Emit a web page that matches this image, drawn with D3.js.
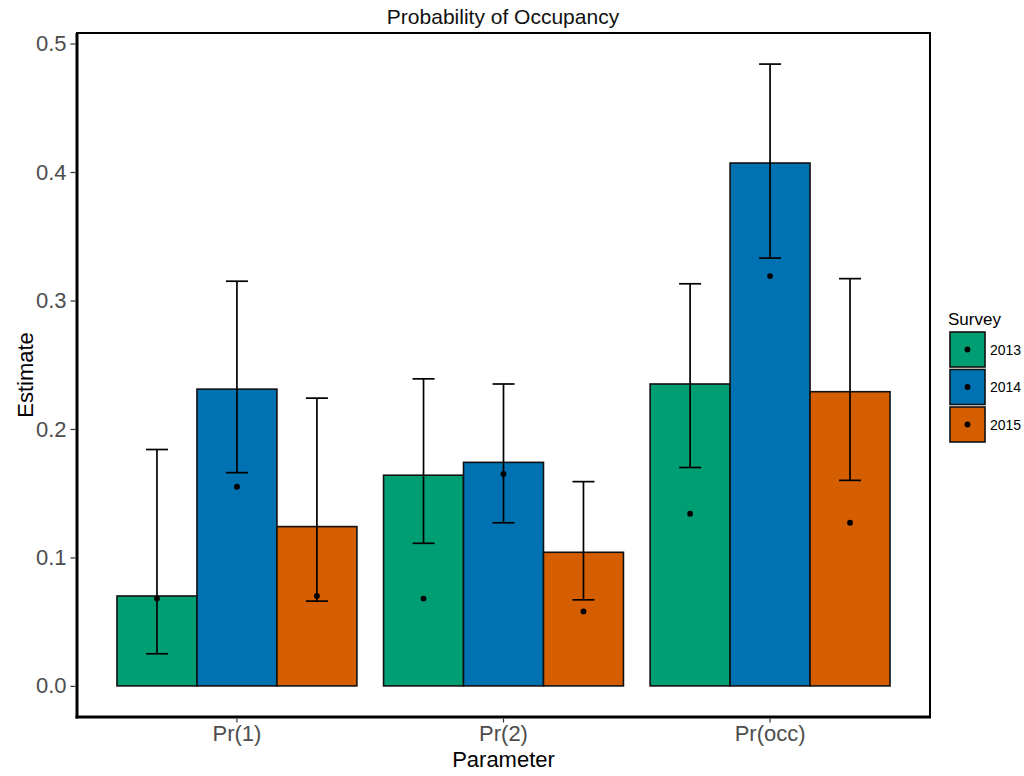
<!DOCTYPE html>
<html><head><meta charset="utf-8">
<script src="https://cdn.jsdelivr.net/npm/d3@7"></script>
<style>
html,body{margin:0;padding:0;background:#fff;}
svg{display:block;font-family:"Liberation Sans",Arial,sans-serif;}
</style></head>
<body><svg id="c" width="1024" height="776"></svg>
<script>
const categories = ["Pr(1)", "Pr(2)", "Pr(occ)"];
const surveys = ["2013", "2014", "2015"];
const barValues = {"2013": [0.070, 0.164, 0.235], "2014": [0.231, 0.174, 0.407], "2015": [0.124, 0.104, 0.229]};
const pointValues = {"2013": [0.068, 0.068, 0.134], "2014": [0.155, 0.165, 0.319], "2015": [0.070, 0.058, 0.127]};
const lowerValues = {"2013": [0.025, 0.111, 0.170], "2014": [0.166, 0.127, 0.333], "2015": [0.066, 0.067, 0.160]};
const upperValues = {"2013": [0.184, 0.239, 0.313], "2014": [0.315, 0.235, 0.484], "2015": [0.224, 0.159, 0.317]};
const yTicks = [0, 0.1, 0.2, 0.3, 0.4, 0.5];
const colors = {"2013": "#009E73", "2014": "#0072B2", "2015": "#D55E00"};

const svg = d3.select("#c");
const L = 77, R = 930, T = 33, B = 717;

const rows = [];
surveys.forEach(s => categories.forEach((c, i) => rows.push({
  s, c, bar: barValues[s][i], pt: pointValues[s][i], lo: lowerValues[s][i], hi: upperValues[s][i]
})));

const x = d3.scaleBand().domain(categories).range([L, R]).paddingInner(0.1).paddingOuter(0.15);
const xs = d3.scaleBand().domain(surveys).range([0, x.bandwidth()]);
const maxV = d3.max(rows, d => d.hi), minV = 0;
const ex = (maxV - minV) * 0.05;
const y = d3.scaleLinear().domain([minV - ex, maxV + ex]).range([B, T]);

// bars
svg.append("g").selectAll("rect").data(rows).join("rect")
  .attr("x", d => x(d.c) + xs(d.s))
  .attr("y", d => y(d.bar))
  .attr("width", xs.bandwidth())
  .attr("height", d => y(0) - y(d.bar))
  .attr("fill", d => colors[d.s])
  .attr("stroke", "#111").attr("stroke-width", 1.6);

// error bars
const eg = svg.append("g").attr("stroke", "#000").attr("stroke-width", 1.7);
rows.forEach(d => {
  const cx = x(d.c) + xs(d.s) + xs.bandwidth() / 2;
  eg.append("line").attr("x1", cx).attr("x2", cx).attr("y1", y(d.lo)).attr("y2", y(d.hi));
  eg.append("line").attr("x1", cx - 11).attr("x2", cx + 11).attr("y1", y(d.lo)).attr("y2", y(d.lo));
  eg.append("line").attr("x1", cx - 11).attr("x2", cx + 11).attr("y1", y(d.hi)).attr("y2", y(d.hi));
});

// points
svg.append("g").selectAll("circle").data(rows).join("circle")
  .attr("cx", d => x(d.c) + xs(d.s) + xs.bandwidth() / 2)
  .attr("cy", d => y(d.pt))
  .attr("r", 2.9).attr("fill", "#000");

// panel border
svg.append("rect").attr("x", L).attr("y", T).attr("width", R - L).attr("height", B - T)
  .attr("fill", "none").attr("stroke", "#000").attr("stroke-width", 2);
svg.append("line").attr("x1", L).attr("x2", L).attr("y1", T).attr("y2", B + 1.5).attr("stroke", "#000").attr("stroke-width", 3);
svg.append("line").attr("x1", L - 1.5).attr("x2", R + 1).attr("y1", B).attr("y2", B).attr("stroke", "#000").attr("stroke-width", 3);

// y axis
const yAxis = svg.append("g").attr("transform", `translate(${L - 1.5},0)`)
  .call(d3.axisLeft(y).tickValues(yTicks).tickFormat(d3.format(".1f")).tickSize(5).tickPadding(4));
yAxis.select(".domain").remove();
yAxis.selectAll(".tick line").attr("stroke", "#333").attr("stroke-width", 1.2);
yAxis.selectAll(".tick text").attr("fill", "#4D4D4D").style("font-size", "22px")
  .style("font-family", '"Liberation Sans",Arial,sans-serif');

// x axis
const xAxis = svg.append("g").attr("transform", `translate(0,${B + 1.5})`)
  .call(d3.axisBottom(x).tickSize(4).tickPadding(3));
xAxis.select(".domain").remove();
xAxis.selectAll(".tick line").attr("stroke", "#333").attr("stroke-width", 1.2);
xAxis.selectAll(".tick text").attr("fill", "#4D4D4D").style("font-size", "22px")
  .style("font-family", '"Liberation Sans",Arial,sans-serif');

// titles
svg.append("text").attr("x", 503).attr("y", 24).attr("text-anchor", "middle")
  .style("font-size", "21px").attr("fill", "#111").text("Probability of Occupancy");
svg.append("text").attr("x", (L + R) / 2).attr("y", 767).attr("text-anchor", "middle")
  .style("font-size", "22px").attr("fill", "#000").text("Parameter");
svg.append("text").attr("transform", `translate(33,${(T + B) / 2}) rotate(-90)`).attr("text-anchor", "middle")
  .style("font-size", "22px").attr("fill", "#000").text("Estimate");

// legend
const lg = svg.append("g");
lg.append("text").attr("x", 948).attr("y", 325).style("font-size", "17px").attr("fill", "#000").text("Survey");
surveys.forEach((s, i) => {
  const ky = 332 + i * 37.5;
  lg.append("rect").attr("x", 950).attr("y", ky).attr("width", 35).attr("height", 35)
    .attr("fill", colors[s]).attr("stroke", "#111").attr("stroke-width", 1.6);
  lg.append("circle").attr("cx", 967.5).attr("cy", ky + 17.5).attr("r", 2.9).attr("fill", "#000");
  lg.append("text").attr("x", 990).attr("y", ky + 22.5).style("font-size", "14px").attr("fill", "#000").text(s);
});
</script></body></html>
